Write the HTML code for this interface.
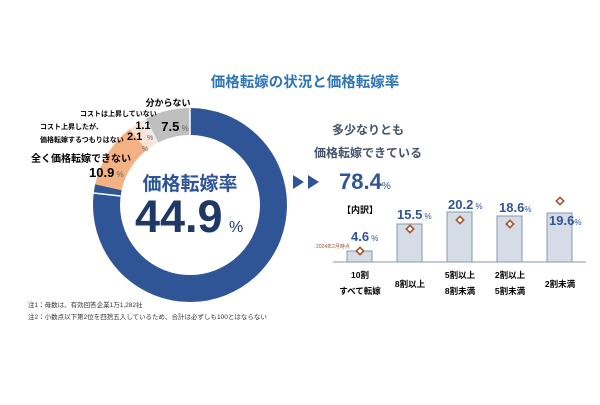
<!DOCTYPE html>
<html><head><meta charset="utf-8"><style>
body{margin:0;background:#fff}
svg text{font-family:"Liberation Sans","Noto Sans CJK JP",sans-serif}
</style></head><body>
<svg width="600" height="400" viewBox="0 0 600 400" xmlns="http://www.w3.org/2000/svg">
<rect width="600" height="400" fill="#fff"/>
<text x="305" y="87" text-anchor="middle" font-size="14.5" font-weight="bold" fill="#2e75b6">価格転嫁の状況と価格転嫁率</text>
<g transform="translate(190,205) rotate(-90)">
<circle r="83.5" fill="none" stroke="#2f5597" stroke-width="27" stroke-dasharray="411.3 524.6"/>
<circle r="83.5" fill="none" stroke="#f4b183" stroke-width="27" stroke-dasharray="57.2 524.6" stroke-dashoffset="-411.3"/>
<circle r="83.5" fill="none" stroke="#fbe2d2" stroke-width="27" stroke-dasharray="11 524.6" stroke-dashoffset="-468.5"/>
<circle r="83.5" fill="none" stroke="#ececec" stroke-width="27" stroke-dasharray="5.8 524.6" stroke-dashoffset="-479.5"/>
<circle r="83.5" fill="none" stroke="#bfbfbf" stroke-width="27" stroke-dasharray="39.3 524.6" stroke-dashoffset="-485.3"/>
</g>
<g stroke="#fff" stroke-width="1.5">
<line x1="190" y1="107" x2="190" y2="136"/>
<line x1="93.5" y1="193" x2="120.5" y2="196"/>
</g>
<text x="190" y="190" text-anchor="middle" font-size="19" font-weight="bold" fill="#2f5597">価格転嫁率</text>
<text x="135" y="232" font-size="45" font-weight="bold" fill="#1f3864">44.9</text>
<text x="229" y="232" font-size="16" fill="#1f3864">%</text>
<text x="168" y="106" text-anchor="middle" font-size="9" font-weight="bold" fill="#000">分からない</text>
<text x="175" y="131" text-anchor="middle" font-size="13" font-weight="bold" fill="#000">7.5<tspan font-size="8" font-weight="normal" fill="#666"> %</tspan></text>
<text x="80" y="116" font-size="7" font-weight="bold" fill="#000">コストは上昇していない</text>
<text x="143" y="129" text-anchor="middle" font-size="11" font-weight="bold" fill="#000">1.1</text>
<text x="147" y="140" font-size="7" fill="#666">%</text>
<text x="40" y="129" font-size="7" font-weight="bold" fill="#000">コスト上昇したが、</text>
<text x="40" y="142" font-size="7" font-weight="bold" fill="#000">価格転嫁するつもりはない</text>
<text x="127" y="140" font-size="11" font-weight="bold" fill="#000">2.1</text>
<text x="142" y="151" font-size="7" fill="#666">%</text>
<text x="31" y="162" font-size="10" font-weight="bold" fill="#000">全く価格転嫁できない</text>
<text x="89" y="177" font-size="13" font-weight="bold" fill="#000">10.9<tspan font-size="8" font-weight="normal" fill="#666"> %</tspan></text>
<text x="28" y="307" font-size="6.5" fill="#333">注1：母数は、有効回答企業1万1,282社</text>
<text x="28" y="319" font-size="6.5" fill="#333">注2：小数点以下第2位を四捨五入しているため、合計は必ずしも100とはならない</text>
<polygon points="293,175 293,189 304,182" fill="#2f5597"/>
<polygon points="308,175 308,189 319,182" fill="#2f5597"/>
<text x="368" y="134" text-anchor="middle" font-size="12" font-weight="bold" fill="#44546a">多少なりとも</text>
<text x="368" y="157" text-anchor="middle" font-size="12" font-weight="bold" fill="#44546a">価格転嫁できている</text>
<text x="339" y="189" font-size="22" font-weight="bold" fill="#2f5597">78.4<tspan font-size="10" font-weight="normal">%</tspan></text>
<text x="342" y="213" font-size="9" font-weight="bold" fill="#000">【内訳】</text>
<g fill="#d6dce5" stroke="#8497b0" stroke-width="1">
<rect x="347" y="251" width="25" height="11"/>
<rect x="397" y="224" width="25" height="38"/>
<rect x="447" y="212" width="25" height="50"/>
<rect x="497" y="216" width="25" height="46"/>
<rect x="547" y="213" width="25" height="49"/>
</g>
<line x1="333" y1="262" x2="586" y2="262" stroke="#8497b0" stroke-width="1"/>
<g fill="#fff" stroke="#a5522b" stroke-width="1.6">
<rect x="-2.6" y="-2.6" width="5.2" height="5.2" transform="translate(360,251) rotate(45)"/>
<rect x="-2.6" y="-2.6" width="5.2" height="5.2" transform="translate(410,229) rotate(45)"/>
<rect x="-2.6" y="-2.6" width="5.2" height="5.2" transform="translate(460,220) rotate(45)"/>
<rect x="-2.6" y="-2.6" width="5.2" height="5.2" transform="translate(510,224) rotate(45)"/>
<rect x="-2.6" y="-2.6" width="5.2" height="5.2" transform="translate(560,201) rotate(45)"/>
</g>
<text x="316" y="248" font-size="5" fill="#a5522b">2024年2月時点</text>
<g font-size="13" font-weight="bold" fill="#2f5597">
<text x="351" y="241">4.6<tspan font-size="8" font-weight="normal"> %</tspan></text>
<text x="397" y="219">15.5<tspan font-size="8" font-weight="normal"> %</tspan></text>
<text x="448" y="209">20.2<tspan font-size="8" font-weight="normal"> %</tspan></text>
<text x="499" y="212">18.6<tspan font-size="8" font-weight="normal">%</tspan></text>
<text x="549" y="225">19.6<tspan font-size="8" font-weight="normal">%</tspan></text>
</g>
<g font-size="8.5" font-weight="bold" fill="#000" text-anchor="middle">
<text x="360" y="278">10割</text>
<text x="360" y="294">すべて転嫁</text>
<text x="410" y="287">8割以上</text>
<text x="460" y="278">5割以上</text>
<text x="460" y="294">8割未満</text>
<text x="510" y="278">2割以上</text>
<text x="510" y="294">5割未満</text>
<text x="560" y="287">2割未満</text>
</g>
</svg>
</body></html>
